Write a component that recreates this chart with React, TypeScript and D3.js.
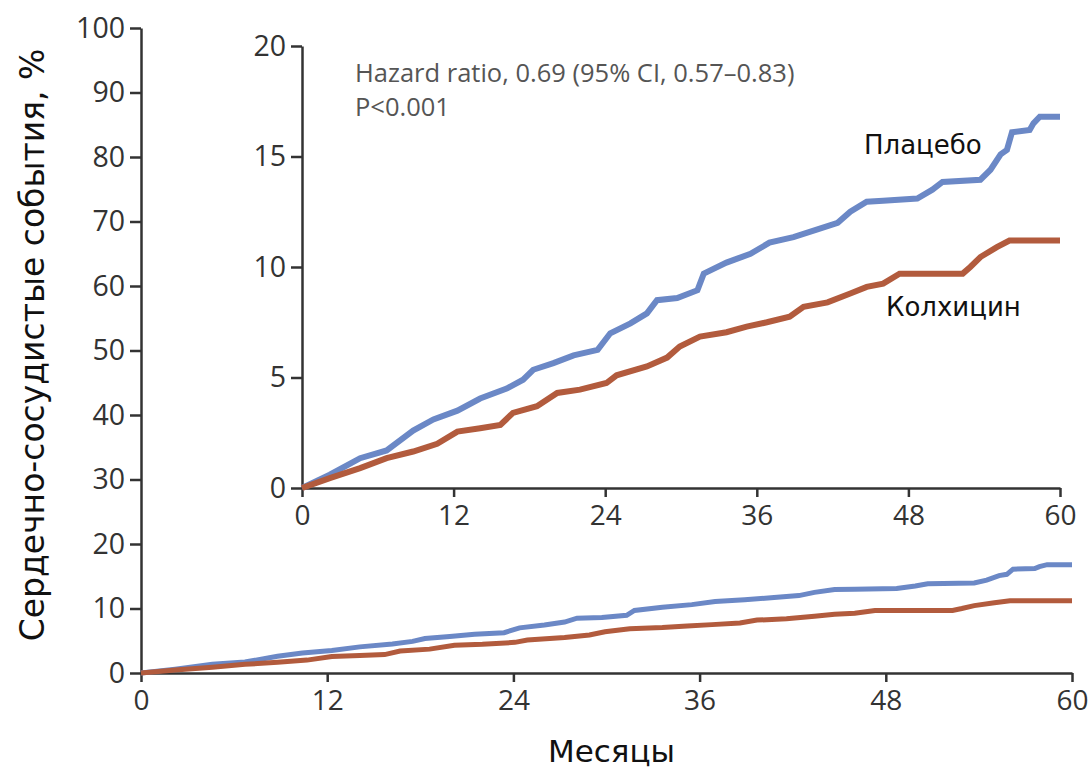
import { useEffect, useRef } from "react";
import * as d3 from "d3";

// Kaplan-Meier style cumulative incidence
const placeboMonths = [0, 2.2, 4.6, 6.7, 8.8, 10.4, 12.3, 14.1, 16.2, 17.5, 18.3, 19.9, 21.5, 23.4, 24.4, 26.0, 27.3, 28.1, 29.7, 31.3, 31.8, 33.6, 35.5, 37.0, 38.9, 40.8, 42.4, 43.4, 44.7, 46.0, 48.7, 49.9, 50.7, 53.7, 54.5, 55.3, 55.8, 56.2, 57.6, 57.9, 58.4, 60];
const placeboValues = [0, 0.6, 1.35, 1.7, 2.6, 3.1, 3.5, 4.05, 4.5, 4.9, 5.35, 5.65, 6.0, 6.25, 7.0, 7.45, 7.9, 8.5, 8.6, 8.95, 9.7, 10.2, 10.6, 11.1, 11.35, 11.7, 12.0, 12.5, 12.95, 13.0, 13.1, 13.5, 13.85, 13.95, 14.4, 15.1, 15.3, 16.1, 16.2, 16.5, 16.8, 16.8];

const colchicineMonths = [0, 2.2, 4.6, 6.7, 8.8, 10.7, 12.3, 14.1, 15.7, 16.7, 18.6, 20.2, 22.0, 24.1, 24.9, 27.3, 28.9, 29.9, 31.5, 33.6, 35.2, 36.8, 38.6, 39.7, 41.6, 43.4, 44.7, 46.0, 47.3, 52.3, 52.9, 53.7, 55.0, 56.0, 60];
const colchicineValues = [0, 0.45, 0.9, 1.35, 1.65, 2.0, 2.55, 2.7, 2.85, 3.4, 3.7, 4.3, 4.45, 4.75, 5.1, 5.5, 5.9, 6.4, 6.85, 7.05, 7.3, 7.5, 7.75, 8.2, 8.4, 8.8, 9.1, 9.25, 9.7, 9.7, 10.0, 10.45, 10.9, 11.2, 11.2];

const monthTicks = [0, 12, 24, 36, 48, 60];
const outerYTicks = [0, 10, 20, 30, 40, 50, 60, 70, 80, 90, 100];
const insetYTicks = [0, 5, 10, 15, 20];

const BLUE = "#6b88c6";
const RED = "#b25b3d";
const FONT = "'Open Sans', sans-serif";
const LABEL_FONT = "'DejaVu Sans', sans-serif";

const KMChart = () => {
  const chartRef = useRef<SVGSVGElement>(null);

  useEffect(() => {
    const svg = d3.select(chartRef.current).attr("width", 1092).attr("height", 769);
    svg.selectAll("*").remove();

    const placebo = placeboMonths.map((m, i) => ({ m, v: placeboValues[i] }));
    const colchicine = colchicineMonths.map((m, i) => ({ m, v: colchicineValues[i] }));

    const styleAxis = (g, size) => {
      g.select(".domain").attr("stroke", "#333").attr("stroke-width", 2.5);
      g.selectAll(".tick line").attr("stroke", "#333").attr("stroke-width", 2.5);
      g.selectAll(".tick text")
        .attr("fill", "#333")
        .style("font-family", FONT)
        .style("font-size", size + "px");
    };

    // outer plot
    const x = d3.scaleLinear().domain([0, 60]).range([141, 1072]);
    const y = d3.scaleLinear().domain([0, 100]).range([673, 28]);

    svg.append("g")
      .attr("transform", `translate(0,${y(0)})`)
      .call(d3.axisBottom(x).tickValues(monthTicks).tickSize(9).tickSizeOuter(0).tickPadding(8))
      .call((g) => styleAxis(g, 28));

    svg.append("g")
      .attr("transform", `translate(${x(0)},0)`)
      .call(d3.axisLeft(y).tickValues(outerYTicks).tickSize(11).tickSizeOuter(0).tickPadding(5))
      .call((g) => styleAxis(g, 28.5));

    const line = d3.line().x((d) => x(d.m)).y((d) => y(d.v));
    svg.append("path").datum(placebo).attr("d", line).attr("fill", "none").attr("stroke", BLUE).attr("stroke-width", 5);
    svg.append("path").datum(colchicine).attr("d", line).attr("fill", "none").attr("stroke", RED).attr("stroke-width", 5);

    svg.append("text")
      .attr("x", (x(0) + x(60)) / 2 + 5)
      .attr("y", 762)
      .attr("text-anchor", "middle")
      .style("font-family", LABEL_FONT)
      .style("font-size", "31px")
      .attr("fill", "#111")
      .text("Месяцы");

    svg.append("text")
      .attr("transform", `translate(44,345) rotate(-90)`)
      .attr("text-anchor", "middle")
      .style("font-family", LABEL_FONT)
      .style("font-size", "33px")
      .attr("fill", "#111")
      .text("Сердечно-сосудистые события, %");

    // inset
    const xi = d3.scaleLinear().domain([0, 60]).range([302, 1060]);
    const yi = d3.scaleLinear().domain([0, 20]).range([488, 46]);

    svg.append("g")
      .attr("transform", `translate(0,${yi(0)})`)
      .call(d3.axisBottom(xi).tickValues(monthTicks).tickSize(9).tickSizeOuter(0).tickPadding(8))
      .call((g) => styleAxis(g, 28));

    svg.append("g")
      .attr("transform", `translate(${xi(0)},0)`)
      .call(d3.axisLeft(yi).tickValues(insetYTicks).tickSize(11).tickSizeOuter(0).tickPadding(5))
      .call((g) => styleAxis(g, 28.5));

    const lineInset = d3.line().x((d) => xi(d.m)).y((d) => yi(d.v));
    svg.append("path").datum(placebo).attr("d", lineInset).attr("fill", "none").attr("stroke", BLUE).attr("stroke-width", 6);
    svg.append("path").datum(colchicine).attr("d", lineInset).attr("fill", "none").attr("stroke", RED).attr("stroke-width", 6);

    svg.append("text")
      .attr("x", 355)
      .attr("y", 82)
      .style("font-family", FONT)
      .style("font-size", "25.5px")
      .attr("fill", "#555")
      .text("Hazard ratio, 0.69 (95% CI, 0.57–0.83)");
    svg.append("text")
      .attr("x", 355)
      .attr("y", 116)
      .style("font-family", FONT)
      .style("font-size", "25.5px")
      .attr("fill", "#555")
      .text("P<0.001");

    svg.append("text")
      .attr("x", 864)
      .attr("y", 154)
      .style("font-family", LABEL_FONT)
      .style("font-size", "26px")
      .attr("fill", "#111")
      .text("Плацебо");
    svg.append("text")
      .attr("x", 886)
      .attr("y", 316)
      .style("font-family", LABEL_FONT)
      .style("font-size", "26px")
      .attr("fill", "#111")
      .text("Колхицин");
  }, []);

  return <svg ref={chartRef} style={{ position: "absolute", left: 0, top: 0 }}></svg>;
};

export default function App() {
  return <KMChart />;
}
